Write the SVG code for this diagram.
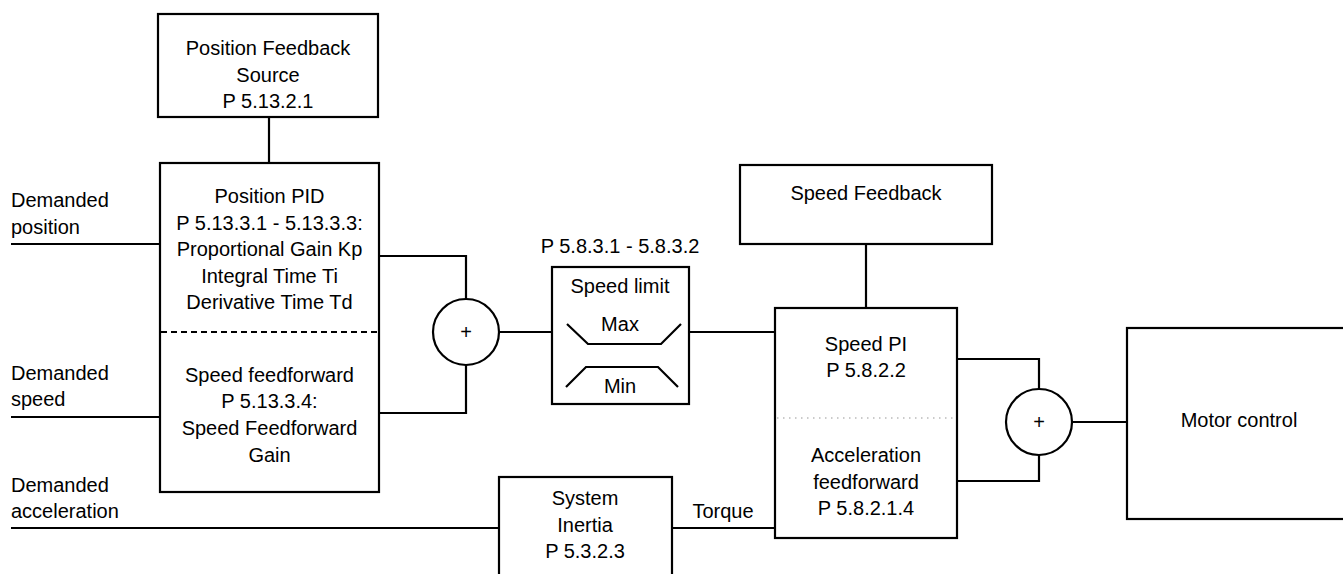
<svg xmlns="http://www.w3.org/2000/svg" width="1343" height="574" viewBox="0 0 1343 574">
<style>
.box{fill:#fff;stroke:#000;stroke-width:2.2}
.ln{fill:none;stroke:#000;stroke-width:2.2}
text{font-family:"Liberation Sans",Arial,sans-serif;font-size:20px;fill:#000}
.c{text-anchor:middle}
.plus{font-size:20px}
</style>
<rect width="1343" height="574" fill="#fff"/>
<g id="connectors">
<path class="ln" d="M269,117V163"/>
<path class="ln" d="M11,244H160"/>
<path class="ln" d="M11,417H160"/>
<path class="ln" d="M11,528H499"/>
<path class="ln" d="M379,256H466V299"/>
<path class="ln" d="M379,413H466V365"/>
<path class="ln" d="M499,332H552"/>
<path class="ln" d="M689,332H775"/>
<path class="ln" d="M866,244V308"/>
<path class="ln" d="M672,528H775"/>
<path class="ln" d="M957,359H1039V389"/>
<path class="ln" d="M957,481H1039V455"/>
<path class="ln" d="M1072,422H1127"/>
</g>
<g id="labels">
<text x="11" y="207">Demanded</text>
<text x="11" y="234">position</text>
<text x="11" y="380">Demanded</text>
<text x="11" y="406">speed</text>
<text x="11" y="492">Demanded</text>
<text x="11" y="518">acceleration</text>
<text x="723" y="518" class="c">Torque</text>
<text x="620" y="253" class="c">P 5.8.3.1 - 5.8.3.2</text>
</g>
<g id="pos-feedback">
<rect class="box" x="158" y="14" width="220" height="103"/>
<text x="268" y="55" class="c">Position Feedback</text>
<text x="268" y="82" class="c">Source</text>
<text x="268" y="108" class="c">P 5.13.2.1</text>
</g>
<g id="pos-pid">
<rect class="box" x="160" y="163" width="219" height="329"/>
<text x="269.5" y="203" class="c">Position PID</text>
<text x="269.5" y="229.5" class="c">P 5.13.3.1 - 5.13.3.3:</text>
<text x="269.5" y="256" class="c">Proportional Gain Kp</text>
<text x="269.5" y="282.5" class="c">Integral Time Ti</text>
<text x="269.5" y="309" class="c">Derivative Time Td</text>
<path class="ln" d="M161,332H378" stroke-dasharray="6,4"/>
<text x="269.5" y="382" class="c">Speed feedforward</text>
<text x="269.5" y="408" class="c">P 5.13.3.4:</text>
<text x="269.5" y="435" class="c">Speed Feedforward</text>
<text x="269.5" y="462" class="c">Gain</text>
</g>
<g id="sum1">
<circle class="box" cx="466" cy="332" r="33"/>
<text x="466" y="339" class="c plus">+</text>
</g>
<g id="speed-limit">
<rect class="box" x="552" y="267" width="137" height="137"/>
<text x="620" y="293" class="c">Speed limit</text>
<text x="620" y="331" class="c">Max</text>
<polyline class="ln" points="567,324 588,344 661,344 681,324"/>
<polyline class="ln" points="566,387 586,367 658,367 678,387"/>
<text x="620" y="393" class="c">Min</text>
</g>
<g id="speed-feedback">
<rect class="box" x="740" y="165" width="252" height="79"/>
<text x="866" y="200" class="c">Speed Feedback</text>
</g>
<g id="speed-pi">
<rect class="box" x="775" y="308" width="182" height="230"/>
<text x="866" y="351" class="c">Speed PI</text>
<text x="866" y="377" class="c">P 5.8.2.2</text>
<path d="M777,418H955" fill="none" stroke="#bbb" stroke-width="1.5" stroke-dasharray="1.5,4.5"/>
<text x="866" y="462" class="c">Acceleration</text>
<text x="866" y="489" class="c">feedforward</text>
<text x="866" y="515" class="c">P 5.8.2.1.4</text>
</g>
<g id="system-inertia">
<rect class="box" x="499" y="477" width="173" height="110"/>
<text x="585" y="505" class="c">System</text>
<text x="585" y="532" class="c">Inertia</text>
<text x="585" y="558" class="c">P 5.3.2.3</text>
</g>
<g id="sum2">
<circle class="box" cx="1039" cy="422" r="33"/>
<text x="1039" y="429" class="c plus">+</text>
</g>
<g id="motor-control">
<rect class="box" x="1127" y="328" width="230" height="191"/>
<text x="1239" y="427" class="c">Motor control</text>
</g>
</svg>
